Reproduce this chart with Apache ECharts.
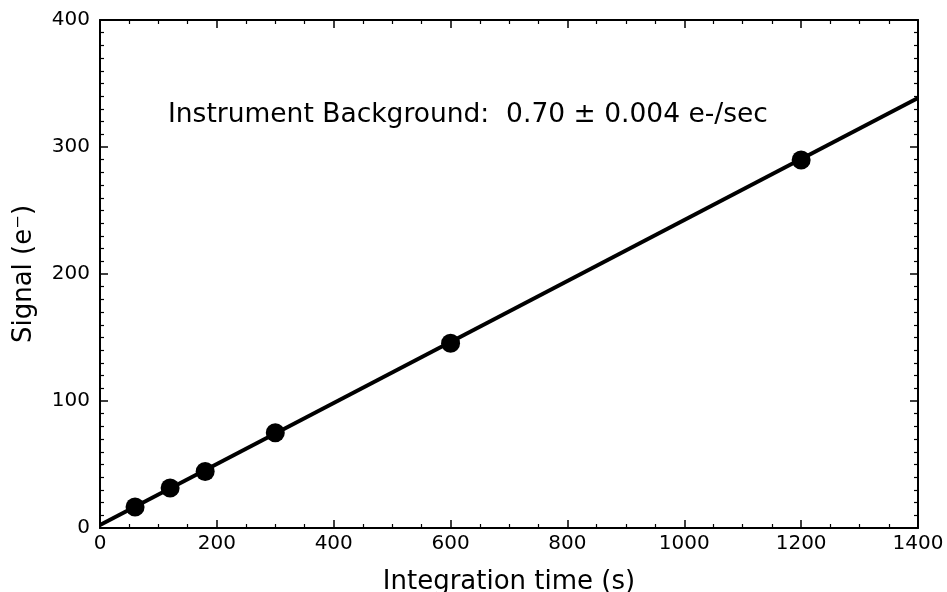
<!DOCTYPE html>
<html><head><meta charset="utf-8">
<script src="https://cdn.jsdelivr.net/npm/echarts@6/dist/echarts.min.js"></script>
<style>html,body{margin:0;padding:0;background:#fff;overflow:hidden}#c{width:947px;height:592px}</style>
</head><body><div id="c"></div>
<script>
const timeS = [60, 120, 180, 300, 600, 1200];
const signal = [16.5, 31.5, 44.5, 75, 145.5, 289.8];
const fitX = [0, 1400];
const fitY = [2.4, 338.6];
const xTicks = [0, 200, 400, 600, 800, 1000, 1200, 1400];
const yTicks = [0, 100, 200, 300, 400];
const annotation = 'Instrument Background:  0.70 \u00b1 0.004 e-/sec';

const FONT = 'DejaVu Sans';
const axisLine = {show: true, onZero: false, lineStyle: {color: '#000', width: 2}};
const tickIn = {show: true, inside: true, length: 8, lineStyle: {color: '#000', width: 1.5}};
const minorIn = (n) => ({show: true, splitNumber: n, length: 4, lineStyle: {color: '#000', width: 1.2}});
const plain = (v) => String(v);
const chart = echarts.init(document.getElementById('c'), null, {renderer: 'canvas'});
chart.setOption({
  animation: false,
  backgroundColor: '#fff',
  grid: {left: 100, right: 29, top: 20, bottom: 64, containLabel: false, outerBoundsMode: 'none'},
  xAxis: [{
    type: 'value', min: xTicks[0], max: xTicks[xTicks.length-1], interval: 200,
    name: 'Integration time (s)', nameLocation: 'middle', nameGap: 41,
    nameTextStyle: {fontFamily: FONT, fontSize: 26, color: '#000'},
    axisLine, axisTick: tickIn, minorTick: minorIn(4),
    axisLabel: {fontFamily: FONT, fontSize: 20, color: '#000', margin: 6, formatter: plain},
    splitLine: {show: false}
  }, {
    type: 'value', position: 'top', min: 0, max: 1400, interval: 200,
    axisLine, axisTick: tickIn, minorTick: minorIn(4),
    axisLabel: {show: false}, splitLine: {show: false}
  }],
  yAxis: [{
    type: 'value', min: yTicks[0], max: yTicks[yTicks.length-1], interval: 100,
    name: 'Signal (e\u207b)', nameLocation: 'middle', nameGap: 63,
    nameTextStyle: {fontFamily: FONT, fontSize: 26, color: '#000'},
    axisLine, axisTick: tickIn, minorTick: minorIn(10),
    axisLabel: {fontFamily: FONT, fontSize: 20, color: '#000', margin: 10, formatter: plain},
    splitLine: {show: false}
  }, {
    type: 'value', position: 'right', min: 0, max: 400, interval: 100,
    axisLine, axisTick: tickIn, minorTick: minorIn(10),
    axisLabel: {show: false}, splitLine: {show: false}
  }],
  graphic: [{
    type: 'text', left: 168, top: 102,
    style: {text: annotation, fontFamily: FONT, fontSize: 26.5, fill: '#000'}
  }],
  series: [{
    type: 'line', data: fitX.map((x, i) => [x, fitY[i]]),
    symbol: 'none', lineStyle: {color: '#000', width: 4}, z: 2
  }, {
    type: 'scatter', data: timeS.map((x, i) => [x, signal[i]]),
    symbol: 'circle', symbolSize: 19, itemStyle: {color: '#000', opacity: 1}, z: 3
  }]
});
</script></body></html>
